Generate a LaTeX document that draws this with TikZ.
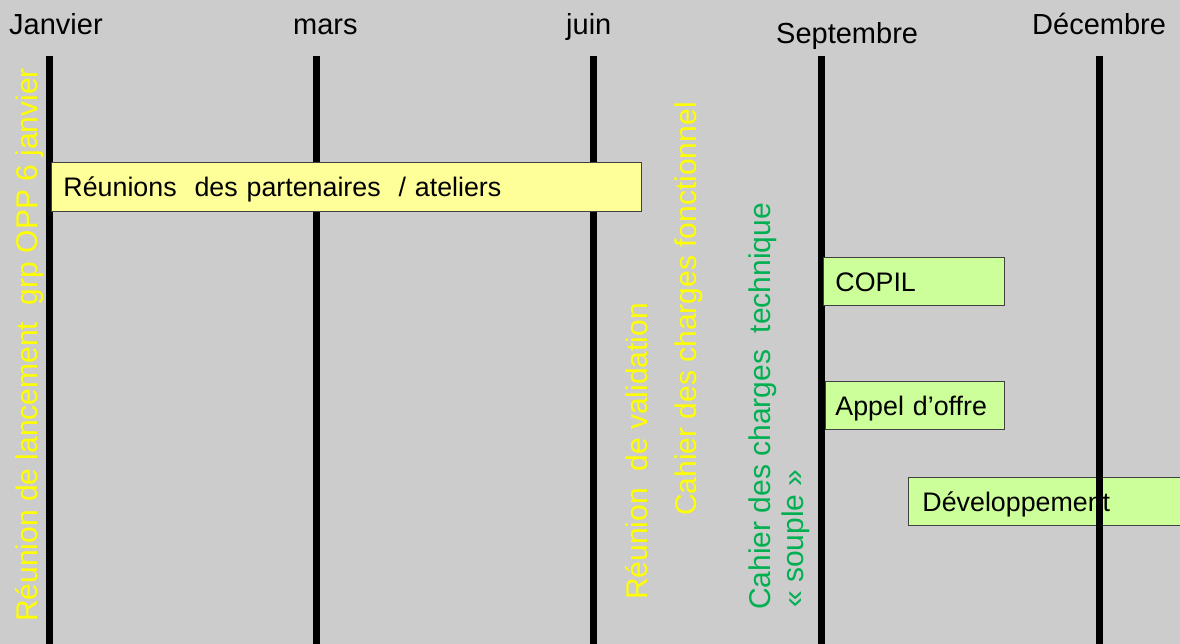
\documentclass[tikz,border=0pt]{standalone}
\usepackage{fontspec}
\setmainfont{Liberation Sans}
\definecolor{bggray}{RGB}{204,204,204}
\definecolor{txtyellow}{RGB}{255,255,0}
\definecolor{txtgreen}{RGB}{0,176,80}
\definecolor{boxyellow}{RGB}{255,255,153}
\definecolor{boxgreen}{RGB}{204,255,153}
\begin{document}
\begin{tikzpicture}[x=1pt,y=-1pt,
  month/.style={anchor=base west, inner sep=0pt, font=\fontsize{29}{34}\selectfont},
  rottext/.style={rotate=90, anchor=base west, inner sep=0pt, font=\fontsize{30}{34}\selectfont},
  bar/.style={line width=7pt},
  taskbox/.style={draw=black!75, line width=0.9pt, anchor=north west, inner xsep=12pt, inner ysep=0pt,
    align=left, text height=20pt, text depth=0pt, font=\fontsize{26.8}{30}\selectfont},
]
\clip (0,0) rectangle (1180,644);
\fill[bggray] (0,0) rectangle (1180,644);

% months
\node[month] (jan) at (9,35) {Janvier};
\node[month] (mar) at (293,35) {mars};
\node[month] (jun) at (566,35) {juin};
\node[month] (sep) at (776,44) {Septembre};
\node[month] (dec) at (1032,35) {Décembre};

% box behind the lines
\node[taskbox, fill=boxgreen, minimum width=300pt, minimum height=48pt, text width=272pt, inner xsep=14pt] (dev) at (908,477) {Développement};

% vertical lines
\coordinate (t1) at (49.5,56); \coordinate (b1) at (49.5,644);
\coordinate (t2) at (316,56);  \coordinate (b2) at (316,644);
\coordinate (t3) at (593,56);  \coordinate (b3) at (593,644);
\coordinate (t4) at (821,56);  \coordinate (b4) at (821,644);
\coordinate (t5) at (1099,56); \coordinate (b5) at (1099,644);
\draw[bar] (t1) -- (b1);
\draw[bar] (t2) -- (b2);
\draw[bar] (t3) -- (b3);
\draw[bar] (t4) -- (b4);
\draw[bar] (t5) -- (b5);

% boxes over the lines
\node[taskbox, fill=boxyellow, minimum width=590pt, minimum height=49pt, text width=566pt] (reun) at (51,162) {Réunions\ \ des partenaires\ \ / ateliers};
\node[taskbox, fill=boxgreen, minimum width=181pt, minimum height=48pt, text width=157pt] (copil) at (823,257) {COPIL};
\node[taskbox, fill=boxgreen, minimum width=179pt, minimum height=48pt, text width=159pt, inner xsep=10pt] (appel) at (825,381) {Appel d’offre};

% rotated texts
\node[rottext, text=txtyellow] (lanc) at (37,622) {Réunion de lancement\ \ grp OPP 6 janvier};
\node[rottext, text=txtyellow] (valid) at (647,600) {Réunion\ \ de validation};
\node[rottext, text=txtyellow] (fonct) at (696,516) {Cahier des charges fonctionnel};
\node[rottext, text=txtgreen] (tech) at (770,610) {Cahier des charges\ \ technique};
\node[rottext, text=txtgreen] (souple) at (803,608) {« souple »};
\end{tikzpicture}
\end{document}
